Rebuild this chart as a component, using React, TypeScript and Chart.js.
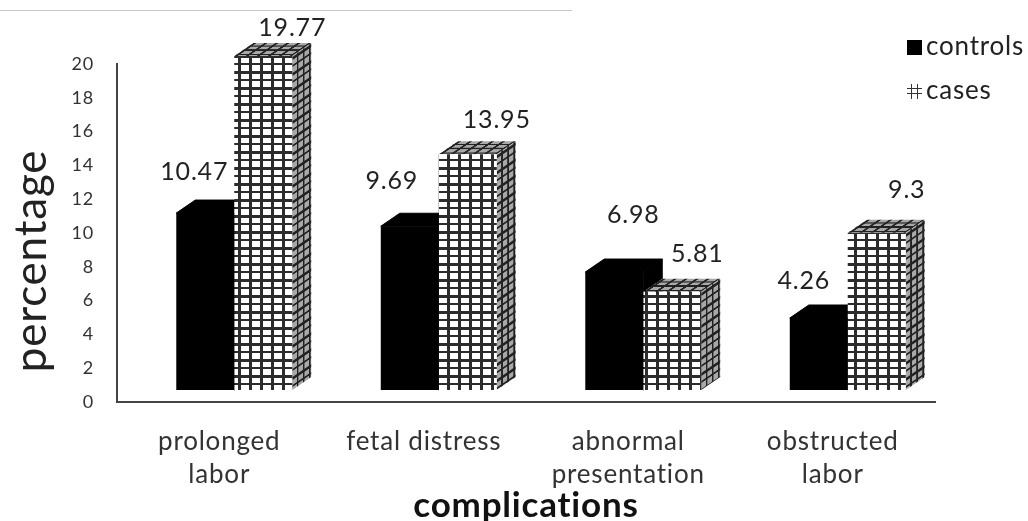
import React, { useEffect, useRef } from "react";
import { Chart, registerables } from "chart.js";

Chart.register(...registerables);

const categories = [["prolonged", "labor"], ["fetal distress"], ["abnormal", "presentation"], ["obstructed", "labor"]];
const controls = [10.47, 9.69, 6.98, 4.26];
const cases = [19.77, 13.95, 5.81, 9.3];
const yTicks = [0, 2, 4, 6, 8, 10, 12, 14, 16, 18, 20];
const yTitle = "percentage";
const labelOffsets = [
  [[4, -53], [-3, -57], [34, -69], [0, -49]],
  [[44, -40], [44, -46], [40, -50], [45, -55]],
];

const FONT = "Lato, Carlito, 'Open Sans', sans-serif";
const DEPTH_X = 19;
const DEPTH_Y = 13;
const SHIFT_X = 15;
const SHIFT_Y = 12;

function tile(bg: string, line: string): HTMLCanvasElement {
  const c = document.createElement("canvas");
  c.width = 11;
  c.height = 16;
  const g = c.getContext("2d")!;
  g.fillStyle = bg;
  g.fillRect(0, 0, 11, 16);
  g.fillStyle = line;
  g.fillRect(3, 0, 3, 16);
  g.fillRect(0, 3, 11, 3);
  g.fillRect(0, 11, 11, 2);
  return c;
}

function legendMarker(kind: "solid" | "hash"): HTMLCanvasElement {
  const c = document.createElement("canvas");
  c.width = 44;
  c.height = 16;
  const g = c.getContext("2d")!;
  if (kind === "solid") {
    g.fillStyle = "#000";
    g.fillRect(29, 1, 15, 15);
  } else {
    g.fillStyle = "#333";
    g.fillRect(33, 1, 1, 15);
    g.fillRect(39, 1, 1, 15);
    g.fillRect(29, 5, 15, 1);
    g.fillRect(29, 10, 15, 1);
  }
  return c;
}

export default function App() {
  const ref = useRef<HTMLCanvasElement>(null);

  useEffect(() => {
    const canvas = ref.current!;
    const ctx0 = canvas.getContext("2d")!;
    const front = ctx0.createPattern(tile("#ffffff", "#2c2c2c"), "repeat")!;
    const skewTile = tile("#a8a8a8", "#222222");

    const drawFaces = (chart: any, index: number) => {
      const ctx = chart.ctx as CanvasRenderingContext2D;
      const isCases = index === 1;
      const meta = chart.getDatasetMeta(index);
      meta.data.forEach((bar: any) => {
        const l = bar.x - bar.width / 2;
        const r = bar.x + bar.width / 2;
        const t = bar.y;
        const b = bar.base;
        let side: any = "#000";
        let top: any = "#000";
        if (isCases) {
          const sp = ctx.createPattern(skewTile, "repeat")!;
          sp.setTransform(new DOMMatrix([0.55, -0.376, 0, 1, r + SHIFT_X, t - SHIFT_Y]));
          side = sp;
          const tp = ctx.createPattern(skewTile, "repeat")!;
          tp.setTransform(new DOMMatrix([1, 0, 0.79, -0.54, l + SHIFT_X, t - SHIFT_Y]));
          top = tp;
        }
        ctx.save();
        ctx.fillStyle = top;
        ctx.strokeStyle = "#000";
        ctx.lineWidth = 1;
        ctx.beginPath();
        ctx.moveTo(l, t);
        ctx.lineTo(l + DEPTH_X, t - DEPTH_Y);
        ctx.lineTo(r + DEPTH_X, t - DEPTH_Y);
        ctx.lineTo(r, t);
        ctx.closePath();
        ctx.fill();
        if (!isCases) ctx.stroke();
        ctx.fillStyle = side;
        ctx.beginPath();
        ctx.moveTo(r, t);
        ctx.lineTo(r + DEPTH_X, t - DEPTH_Y);
        ctx.lineTo(r + DEPTH_X, b - DEPTH_Y);
        ctx.lineTo(r, b);
        ctx.closePath();
        ctx.fill();
        if (!isCases) ctx.stroke();
        ctx.restore();
      });
    };

    const threeD = {
      id: "threeD",
      beforeDraw(chart: any) {
        chart.ctx.letterSpacing = "0.8px";
      },
      beforeDatasetsDraw(chart: any) {
        chart.ctx.save();
        chart.ctx.translate(SHIFT_X, -SHIFT_Y);
        drawFaces(chart, 0);
      },
      beforeDatasetDraw(chart: any, args: any) {
        if (args.index === 1) drawFaces(chart, 1);
      },
      afterDatasetsDraw(chart: any) {
        const ctx = chart.ctx as CanvasRenderingContext2D;
        ctx.restore();
        ctx.save();
        ctx.font = `25px ${FONT}`;
        ctx.fillStyle = "#222";
        ctx.textAlign = "center";
        ctx.textBaseline = "middle";
        [controls, cases].forEach((vals, d) => {
          const meta = chart.getDatasetMeta(d);
          vals.forEach((v, i) => {
            const bar = meta.data[i];
            const [dx, dy] = labelOffsets[d][i];
            ctx.fillText(String(v), bar.x + dx, bar.y + dy);
          });
        });
        ctx.translate(32, 261);
        ctx.rotate(-Math.PI / 2);
        ctx.font = `44px ${FONT}`;
        ctx.fillText(yTitle, 0, 0);
        ctx.restore();
      },
      afterLayout(chart: any) {
        const lg = chart.legend;
        lg.left = 869;
        lg.right = 1028;
        lg.top = 16;
        lg.bottom = 400;
      },
    };

    const chart = new Chart(canvas, {
      type: "bar",
      data: {
        labels: categories,
        datasets: [
          { label: "controls", data: controls, backgroundColor: "#000", clip: false, categoryPercentage: 0.567, barPercentage: 1 },
          { label: "cases", data: cases, backgroundColor: front, clip: false, categoryPercentage: 0.567, barPercentage: 1 },
        ] as any,
      },
      options: {
        animation: false,
        responsive: false,
        layout: { padding: { top: 64, right: 93, left: 0, bottom: 0 } },
        plugins: {
          tooltip: { enabled: false },
          legend: {
            position: "chartArea",
            align: "start",
            labels: {
              usePointStyle: true,
              color: "#222",
              font: { family: FONT, size: 26 },
              padding: 18,
              boxHeight: 16,
              generateLabels: () => [
                { text: "controls", pointStyle: legendMarker("solid"), fontColor: "#222", datasetIndex: 0, lineWidth: 0 },
                { text: "cases", pointStyle: legendMarker("hash"), fontColor: "#222", datasetIndex: 1, lineWidth: 0 },
              ] as any,
            },
          } as any,
        },
        scales: {
          x: {
            grid: { display: false },
            border: { display: true, color: "#444", width: 2 },
            afterFit: (s: any) => { s.height = 119; },
            ticks: {
              color: "#333",
              font: { family: FONT, size: 26, lineHeight: 1.27 },
              padding: 15,
              maxRotation: 0,
              autoSkip: false,
            },
            title: {
              display: true,
              text: "complications",
              color: "#111",
              font: { family: FONT, size: 35, weight: "bold", lineHeight: 1 },
              padding: { top: 0, bottom: -2 },
            },
          },
          y: {
            min: 0,
            max: 20,
            afterBuildTicks: (s: any) => { s.ticks = yTicks.map((value) => ({ value })); },
            afterFit: (s: any) => { s.width = 117; },
            grid: { display: false },
            border: { display: true, color: "#444", width: 2 },
            ticks: { color: "#333", font: { family: FONT, size: 18 }, padding: 15 },
          },
        },
      },
      plugins: [threeD],
    } as any);
    return () => chart.destroy();
  }, []);

  return (
    <div style={{ position: "absolute", left: 0, top: 0, width: 1028, height: 521, background: "#fff" }}>
      <canvas ref={ref} width={1028} height={521} style={{ position: "absolute", left: 0, top: 0, display: "block" }} />
      <div style={{ position: "absolute", left: 0, top: 10, width: 572, height: 1, background: "#c8c8c8" }} />
    </div>
  );
}
